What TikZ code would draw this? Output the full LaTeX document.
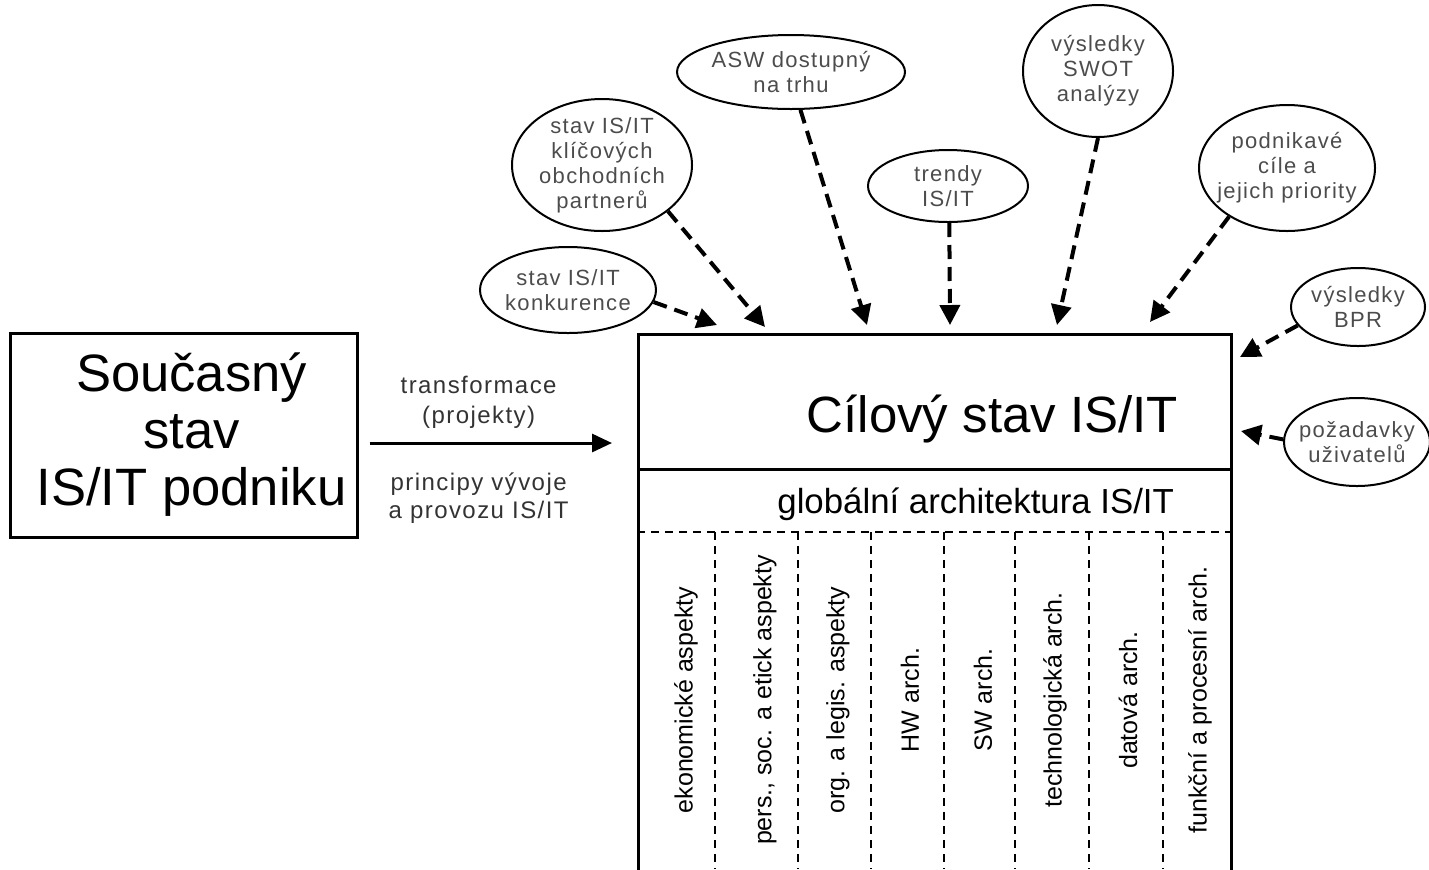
\documentclass[tikz,border=0pt]{standalone}
\usepackage{fontspec}
\setmainfont{Liberation Sans}
\newfontfamily\spaced[LetterSpace=6]{Liberation Sans}
\usetikzlibrary{shapes,shapes.geometric,arrows.meta,calc}

\begin{document}
\begin{tikzpicture}
        [x=0.5pt,y=-0.5pt,
        zdroj/.style={shape=ellipse,draw,line width=1pt,inner sep=0pt},
        popis/.style={text=black!70,font=\spaced\fontsize{11}{12.5}\selectfont,align=center},
        vstup/.style={line width=2pt,dash pattern=on 7pt off 4pt,-{Triangle[length=10pt,width=10pt]}},
        sloupec/.style={rotate=90,font=\fontsize{12.5}{14}\selectfont},
        deleni/.style={line width=0.8pt,dash pattern=on 4pt off 3pt}]
        \clip (0,0) rectangle (1429,869);
        %% current and target state
        \node[draw,line width=1.5pt,minimum width=173.5pt,minimum height=102pt,
          label={[align=center,xshift=4pt,font=\fontsize{26.3}{28.5}\selectfont]center:{Současný\\stav\\IS/IT podniku}}]
          (soucasny) at (183.5,435) {};
        \node[draw,line width=1.5pt,minimum width=296.5pt,minimum height=290pt,
          anchor=north west] (cil) at (637,333) {};
        \node[anchor=base east,font=\fontsize{25.5}{30}\selectfont] (nazev) at (1185,432) {Cílový stav IS/IT};
        \node[anchor=base east,font=\fontsize{17.4}{20}\selectfont] (globalni) at (1181,513) {globální architektura IS/IT};
        \draw[line width=1.5pt] (637,469) -- (1230,469);
        \draw[deleni] (637,532) -- (1230,532);
        \foreach \x in {715,798,871,944,1015,1089,1163}
          \draw[deleni] (\x,532) -- (\x,869);
        \foreach \x/\t in {686/ekonomické aspekty,765/{pers., soc. a etick aspekty},
          838/org. a legis. aspekty,910/HW arch.,983/SW arch.,1055/technologická arch.,
          1128/datová arch.,1200/funkční a procesní arch.}
          \node[sloupec] at (\x,700) {\t};
        %% inputs
        \node[zdroj,minimum width=88pt,minimum height=43pt,
          label={[popis]center:{stav IS/IT\\konkurence}}] (konkurence) at (568,290) {};
        \node[zdroj,minimum width=90pt,minimum height=66pt,
          label={[popis]center:{stav IS/IT\\klíčových\\obchodních\\partnerů}}] (partneri) at (602,165) {};
        \node[zdroj,minimum width=114pt,minimum height=37pt,
          label={[popis]center:{ASW dostupný\\na trhu}}] (asw) at (791,72) {};
        \node[zdroj,minimum width=80pt,minimum height=36pt,
          label={[popis]center:{trendy\\IS/IT}}] (trendy) at (948,186) {};
        \node[zdroj,minimum width=75pt,minimum height=66pt,
          label={[popis]center:{výsledky\\SWOT\\analýzy}}] (swot) at (1098,71) {};
        \node[zdroj,minimum width=88pt,minimum height=63pt,
          label={[popis]center:{podnikavé\\cíle a\\jejich priority}}] (cile) at (1287,168) {};
        \node[zdroj,minimum width=67pt,minimum height=39pt,
          label={[popis]center:{výsledky\\BPR}}] (bpr) at (1358,307) {};
        \node[zdroj,minimum width=73pt,minimum height=44pt,
          label={[popis]center:{požadavky\\uživatelů}}] (pozadavky) at (1357,442) {};
        \coordinate (t1) at (717,325);
        \coordinate (t2) at (765,327);
        \coordinate (t3) at (867,325);
        \coordinate (t4) at (950,325);
        \coordinate (t5) at (1057,325);
        \coordinate (t6) at (1150,322);
        \coordinate (t7) at (1240,357);
        \coordinate (t8) at (1241,431);
        \path
        \foreach \von/\nach in {konkurence.-8/t1,partneri.-35/t2,asw.-76/t3,trendy.-88/t4,
          swot.south/t5,cile.-140/t6,bpr.-163/t7,pozadavky.178/t8}
        {
          (\von) edge[vstup] (\nach)
        };
        %% transformation
        \draw[line width=1.5pt,-{Triangle[length=10pt,width=9pt]}]
          ($(soucasny.east)+(11,8)$) -- ($(soucasny.east -| cil.west)+(-25,8)$)
          node[pos=0.45,above=3pt,popis,text=black!80,font=\spaced\fontsize{12}{15}\selectfont]
            {transformace\\(projekty)}
          node[pos=0.45,below=11pt,popis,text=black!80,font=\spaced\fontsize{12}{14}\selectfont]
            {principy vývoje\\a provozu IS/IT};
\end{tikzpicture}
\end{document}
